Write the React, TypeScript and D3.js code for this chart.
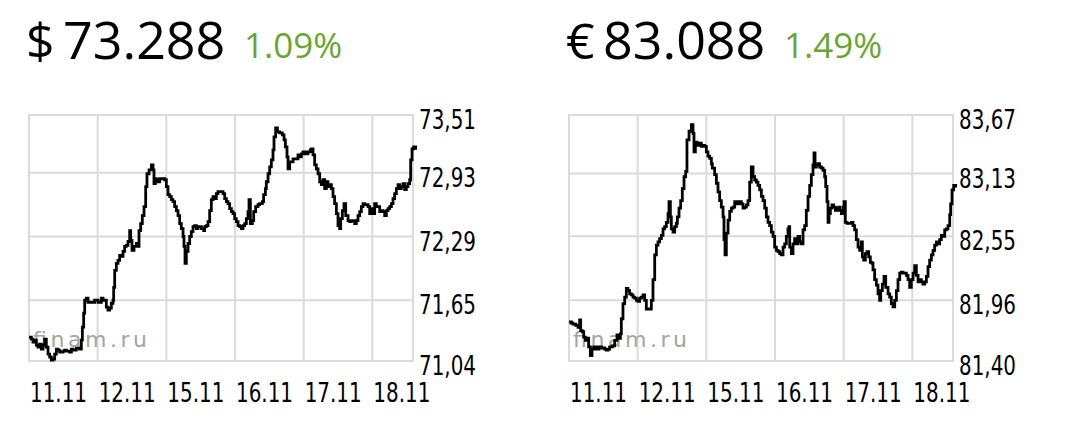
import React from "react";
import * as d3 from "d3";

const dayLabels = ["11.11", "12.11", "15.11", "16.11", "17.11", "18.11"];
const usdTicks = [73.51, 72.93, 72.29, 71.65, 71.04];
const eurTicks = [83.67, 83.13, 82.55, 81.96, 81.4];
const usdPrice = "73.288";
const usdChange = "1.09%";
const eurPrice = "83.088";
const eurChange = "1.49%";
const dayEnd = 5.592;

// [day offset from 11.11 session start, rate]
const usdSeries: [number, number][] = [
  [0, 71.28], [0.034, 71.26], [0.058, 71.23], [0.083, 71.25], [0.107, 71.2], [0.131, 71.18], [0.155, 71.21], [0.18, 71.16],
  [0.204, 71.2], [0.228, 71.26], [0.252, 71.18], [0.277, 71.11], [0.301, 71.08], [0.325, 71.05], [0.35, 71.06], [0.374, 71.11],
  [0.398, 71.16], [0.422, 71.15], [0.447, 71.13], [0.495, 71.14], [0.519, 71.15], [0.544, 71.14], [0.592, 71.13], [0.617, 71.16],
  [0.641, 71.15], [0.689, 71.17], [0.738, 71.16], [0.762, 71.25], [0.777, 71.38], [0.796, 71.52], [0.811, 71.65], [0.835, 71.67],
  [0.859, 71.63], [0.908, 71.63], [0.956, 71.65], [1.005, 71.63], [1.053, 71.67], [1.078, 71.65], [1.126, 71.58], [1.15, 71.55],
  [1.175, 71.57], [1.199, 71.62], [1.223, 71.65], [1.233, 71.78], [1.248, 71.95], [1.272, 72.02], [1.296, 72.05], [1.32, 72.1],
  [1.345, 72.09], [1.369, 72.14], [1.393, 72.19], [1.417, 72.2], [1.442, 72.24], [1.466, 72.35], [1.481, 72.25], [1.5, 72.15],
  [1.529, 72.19], [1.563, 72.22], [1.587, 72.19], [1.602, 72.35], [1.626, 72.42], [1.65, 72.5], [1.675, 72.59], [1.699, 72.79],
  [1.718, 72.92], [1.748, 72.96], [1.782, 73.01], [1.806, 72.96], [1.82, 72.82], [1.84, 72.87], [1.854, 72.86], [1.879, 72.84],
  [1.903, 72.87], [1.951, 72.87], [1.976, 72.86], [2.0, 72.79], [2.024, 72.71], [2.049, 72.69], [2.073, 72.66], [2.097, 72.64],
  [2.121, 72.59], [2.146, 72.55], [2.17, 72.5], [2.194, 72.42], [2.218, 72.37], [2.243, 72.29], [2.257, 72.19], [2.272, 72.02],
  [2.291, 72.14], [2.316, 72.22], [2.34, 72.29], [2.364, 72.34], [2.388, 72.39], [2.413, 72.4], [2.437, 72.37], [2.461, 72.39],
  [2.51, 72.37], [2.544, 72.35], [2.558, 72.39], [2.583, 72.4], [2.607, 72.44], [2.631, 72.55], [2.655, 72.66], [2.68, 72.69],
  [2.704, 72.67], [2.728, 72.72], [2.752, 72.74], [2.801, 72.74], [2.825, 72.72], [2.85, 72.67], [2.874, 72.64], [2.898, 72.62],
  [2.922, 72.57], [2.947, 72.54], [2.971, 72.52], [2.995, 72.47], [3.019, 72.44], [3.044, 72.4], [3.068, 72.39], [3.092, 72.37],
  [3.117, 72.4], [3.141, 72.42], [3.165, 72.47], [3.189, 72.54], [3.204, 72.66], [3.223, 72.42], [3.252, 72.45], [3.272, 72.54],
  [3.301, 72.59], [3.335, 72.61], [3.359, 72.62], [3.398, 72.64], [3.417, 72.71], [3.442, 72.77], [3.456, 72.84], [3.481, 72.92],
  [3.505, 72.99], [3.529, 73.06], [3.553, 73.16], [3.568, 73.29], [3.592, 73.38], [3.617, 73.34], [3.65, 73.33], [3.689, 73.31],
  [3.714, 73.26], [3.733, 73.19], [3.757, 73.09], [3.772, 72.97], [3.796, 73.04], [3.845, 73.07], [3.893, 73.07], [3.917, 73.11],
  [3.942, 73.09], [3.966, 73.12], [3.99, 73.14], [4.029, 73.12], [4.063, 73.14], [4.097, 73.16], [4.112, 73.17], [4.136, 73.11],
  [4.16, 73.01], [4.184, 72.97], [4.209, 72.92], [4.233, 72.84], [4.257, 72.81], [4.282, 72.86], [4.306, 72.77], [4.33, 72.84],
  [4.354, 72.79], [4.379, 72.81], [4.403, 72.77], [4.427, 72.69], [4.451, 72.62], [4.476, 72.52], [4.5, 72.4], [4.524, 72.37],
  [4.539, 72.47], [4.563, 72.55], [4.587, 72.62], [4.612, 72.5], [4.646, 72.45], [4.67, 72.44], [4.694, 72.45], [4.743, 72.42],
  [4.767, 72.45], [4.791, 72.5], [4.816, 72.54], [4.84, 72.59], [4.864, 72.62], [4.888, 72.61], [4.913, 72.61], [4.937, 72.59],
  [4.961, 72.52], [4.985, 72.57], [5.01, 72.52], [5.034, 72.62], [5.058, 72.59], [5.107, 72.54], [5.131, 72.55], [5.155, 72.54],
  [5.18, 72.5], [5.204, 72.55], [5.228, 72.57], [5.252, 72.59], [5.277, 72.62], [5.301, 72.67], [5.325, 72.72], [5.35, 72.77],
  [5.374, 72.81], [5.398, 72.77], [5.422, 72.79], [5.447, 72.82], [5.471, 72.76], [5.495, 72.79], [5.519, 72.82], [5.544, 72.86],
  [5.558, 73.06], [5.578, 73.17], [5.602, 73.19], [5.631, 73.16],
];

const eurSeries: [number, number][] = [
  [0, 81.76], [0.034, 81.75], [0.058, 81.74], [0.097, 81.73], [0.131, 81.71], [0.155, 81.78], [0.17, 81.68], [0.194, 81.67],
  [0.214, 81.62], [0.238, 81.59], [0.262, 81.61], [0.286, 81.53], [0.311, 81.45], [0.335, 81.51], [0.359, 81.53], [0.398, 81.51],
  [0.437, 81.53], [0.471, 81.52], [0.519, 81.51], [0.544, 81.5], [0.568, 81.51], [0.592, 81.53], [0.631, 81.54], [0.665, 81.59],
  [0.699, 81.64], [0.728, 81.61], [0.748, 81.65], [0.762, 81.79], [0.786, 81.93], [0.811, 81.99], [0.835, 82.07], [0.859, 82.05],
  [0.883, 82.02], [0.908, 82.01], [0.932, 81.99], [0.956, 81.98], [0.981, 81.96], [1.005, 81.95], [1.029, 81.98], [1.053, 81.99],
  [1.078, 82.01], [1.102, 81.96], [1.126, 81.88], [1.175, 81.88], [1.199, 81.96], [1.223, 82.15], [1.248, 82.38], [1.272, 82.47],
  [1.296, 82.5], [1.32, 82.53], [1.345, 82.56], [1.369, 82.62], [1.393, 82.64], [1.417, 82.68], [1.442, 82.76], [1.456, 82.87],
  [1.476, 82.73], [1.49, 82.62], [1.515, 82.59], [1.539, 82.64], [1.563, 82.67], [1.578, 82.73], [1.602, 82.81], [1.626, 82.88],
  [1.65, 82.99], [1.675, 83.1], [1.699, 83.15], [1.718, 83.44], [1.748, 83.52], [1.782, 83.58], [1.806, 83.5], [1.82, 83.33],
  [1.84, 83.42], [1.864, 83.39], [1.893, 83.41], [1.927, 83.38], [1.951, 83.39], [1.976, 83.38], [2.0, 83.33], [2.024, 83.29],
  [2.049, 83.27], [2.073, 83.22], [2.087, 83.18], [2.107, 83.18], [2.121, 83.12], [2.146, 83.04], [2.17, 82.96], [2.194, 82.88],
  [2.218, 82.82], [2.243, 82.73], [2.257, 82.52], [2.272, 82.38], [2.291, 82.58], [2.316, 82.7], [2.34, 82.78], [2.364, 82.81],
  [2.388, 82.82], [2.413, 82.87], [2.447, 82.85], [2.476, 82.87], [2.51, 82.85], [2.534, 82.81], [2.558, 82.82], [2.583, 82.84],
  [2.607, 82.88], [2.631, 83.05], [2.655, 83.19], [2.68, 83.1], [2.704, 83.07], [2.728, 83.05], [2.752, 83.02], [2.777, 82.98],
  [2.801, 82.92], [2.825, 82.88], [2.85, 82.81], [2.874, 82.73], [2.898, 82.68], [2.922, 82.65], [2.947, 82.59], [2.971, 82.55],
  [2.995, 82.45], [3.019, 82.42], [3.044, 82.41], [3.068, 82.39], [3.092, 82.38], [3.117, 82.45], [3.141, 82.48], [3.165, 82.55],
  [3.189, 82.62], [3.204, 82.64], [3.214, 82.45], [3.238, 82.39], [3.262, 82.48], [3.286, 82.53], [3.311, 82.48], [3.335, 82.55],
  [3.359, 82.5], [3.383, 82.48], [3.408, 82.61], [3.432, 82.65], [3.456, 82.79], [3.481, 82.92], [3.505, 83.02], [3.529, 83.12],
  [3.553, 83.21], [3.568, 83.32], [3.583, 83.19], [3.602, 83.21], [3.626, 83.22], [3.65, 83.19], [3.675, 83.18], [3.699, 83.16],
  [3.723, 83.1], [3.738, 83.01], [3.757, 82.87], [3.772, 82.68], [3.786, 82.76], [3.806, 82.81], [3.83, 82.84], [3.854, 82.82],
  [3.879, 82.79], [3.903, 82.81], [3.927, 82.82], [3.942, 82.79], [3.966, 82.76], [3.99, 82.82], [4.005, 82.87], [4.024, 82.68],
  [4.049, 82.67], [4.087, 82.67], [4.112, 82.68], [4.136, 82.65], [4.16, 82.61], [4.184, 82.52], [4.209, 82.45], [4.233, 82.42],
  [4.257, 82.5], [4.272, 82.36], [4.291, 82.33], [4.316, 82.39], [4.34, 82.41], [4.364, 82.36], [4.388, 82.31], [4.413, 82.3],
  [4.427, 82.24], [4.451, 82.15], [4.476, 82.1], [4.5, 82.02], [4.524, 81.96], [4.539, 82.05], [4.563, 82.11], [4.587, 82.18],
  [4.612, 82.08], [4.646, 82.02], [4.67, 81.99], [4.694, 81.93], [4.718, 81.9], [4.743, 81.96], [4.767, 82.05], [4.791, 82.15],
  [4.816, 82.21], [4.84, 82.22], [4.864, 82.21], [4.888, 82.21], [4.913, 82.19], [4.937, 82.15], [4.961, 82.08], [4.985, 82.15],
  [5.01, 82.21], [5.034, 82.28], [5.058, 82.19], [5.083, 82.13], [5.107, 82.15], [5.131, 82.13], [5.155, 82.11], [5.18, 82.13],
  [5.204, 82.18], [5.228, 82.27], [5.252, 82.33], [5.277, 82.38], [5.301, 82.42], [5.325, 82.47], [5.35, 82.5], [5.374, 82.48],
  [5.398, 82.52], [5.422, 82.56], [5.447, 82.55], [5.471, 82.61], [5.495, 82.62], [5.519, 82.65], [5.544, 82.75], [5.558, 82.85],
  [5.578, 82.98], [5.602, 83.02], [5.631, 83.0],
];

const GRID = "#dadada";
const GREEN = "#6aa534";
const AXIS_FONT = "'DejaVu Sans Condensed', 'DejaVu Sans', Verdana, sans-serif";

type PanelProps = {
  ox: number;
  series: [number, number][];
  ticks: number[];
  symbol: string;
  price: string;
  change: string;
};

function Panel({ ox, series, ticks, symbol, price, change }: PanelProps) {
  const left = ox + 29;
  const right = ox + 413;
  const top = 115;
  const bottom = 361;
  const x = d3.scaleLinear().domain([0, dayEnd]).range([left, right]);
  const y = d3
    .scaleLinear()
    .domain([d3.min(ticks) as number, d3.max(ticks) as number])
    .range([bottom, top]);
  const line = d3
    .line<[number, number]>()
    .x((d) => x(d[0]))
    .y((d) => y(d[1]))
    .curve(d3.curveStepAfter);
  const dayIdx = dayLabels.map((_, i) => i);

  return (
    <g>
      <text x={ox + 26} y={59} fontFamily="'Open Sans', sans-serif" fontSize={50} fill="#000">
        {symbol}
      </text>
      <text x={ox + 63} y={59} fontFamily="'Open Sans', sans-serif" fontSize={52} fill="#000">
        {price}
      </text>
      <text x={ox + 244} y={58} fontFamily="'Open Sans', sans-serif" fontSize={35} fill={GREEN}>
        {change}
      </text>

      <rect x={left} y={top} width={right - left} height={bottom - top} fill="#fff" stroke={GRID} strokeWidth={2} />
      {dayIdx.slice(1).map((d) => (
        <line key={"v" + d} x1={x(d)} x2={x(d)} y1={top} y2={bottom} stroke={GRID} strokeWidth={2} />
      ))}
      {ticks.slice(1, -1).map((t) => (
        <line key={"h" + t} x1={left} x2={right} y1={y(t)} y2={y(t)} stroke={GRID} strokeWidth={2} />
      ))}

      <text
        x={left + 4}
        y={347}
        fontFamily="'DejaVu Sans', Verdana, sans-serif"
        fontSize={22}
        fill="#a4a4a4"
        textLength={114}
        lengthAdjust="spacing"
      >
        finam.ru
      </text>

      <path d={line(series) || ""} fill="none" stroke="#000" strokeWidth={2.8} strokeLinejoin="miter" />

      {ticks.map((t) => (
        <text
          key={"t" + t}
          x={ox + 419}
          y={y(t) + 14}
          fontFamily={AXIS_FONT}
          fontSize={27}
          fill="#000"
          textLength={57}
          lengthAdjust="spacingAndGlyphs"
        >
          {t.toFixed(2).replace(".", ",")}
        </text>
      ))}

      {dayLabels.map((lab, i) => (
        <text
          key={lab}
          x={x(i) + 1}
          y={402}
          fontFamily={AXIS_FONT}
          fontSize={26}
          fill="#000"
          textLength={57}
          lengthAdjust="spacingAndGlyphs"
        >
          {lab}
        </text>
      ))}
    </g>
  );
}

export default function App() {
  return (
    <svg
      width={1080}
      height={431}
      style={{ position: "fixed", left: 0, top: 0, background: "#fff" }}
    >
      <rect x={0} y={0} width={1080} height={431} fill="#fff" />
      <Panel ox={0} series={usdSeries} ticks={usdTicks} symbol="$" price={usdPrice} change={usdChange} />
      <Panel ox={540} series={eurSeries} ticks={eurTicks} symbol="€" price={eurPrice} change={eurChange} />
    </svg>
  );
}
